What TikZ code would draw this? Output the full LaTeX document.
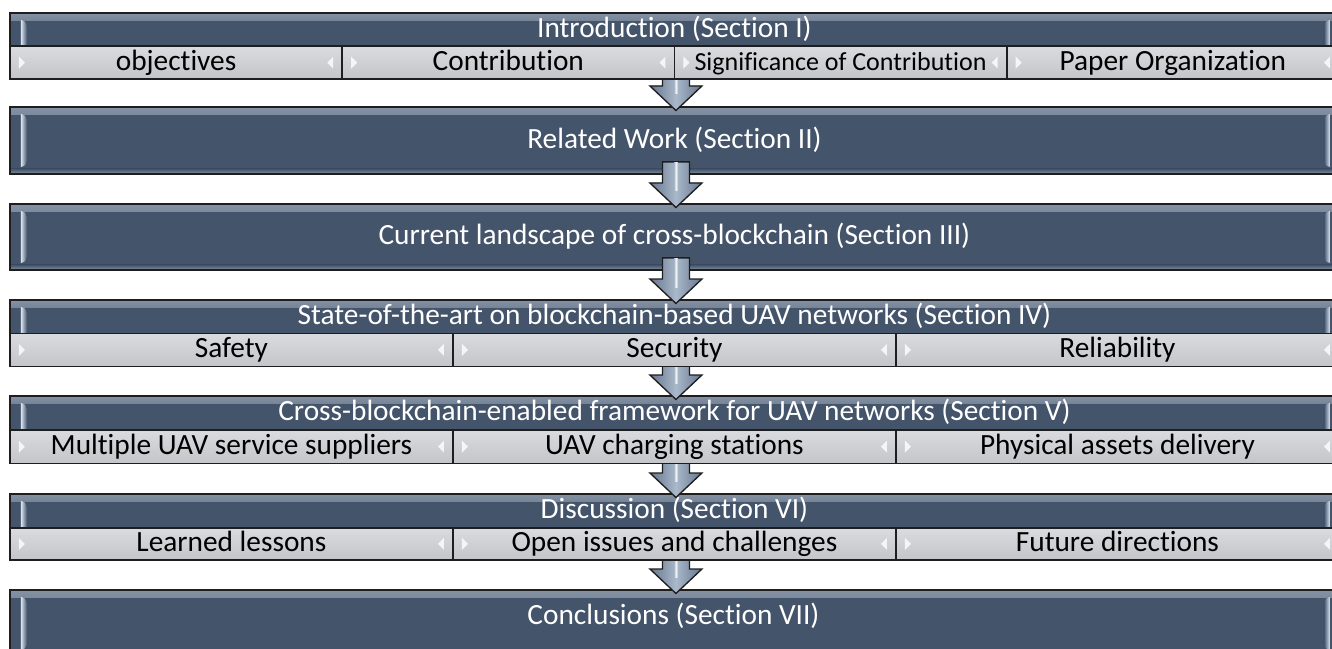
\documentclass[tikz,border=0pt]{standalone}
\usepackage{fontspec}
\setmainfont{Carlito}[Ligatures=NoCommon]
\usetikzlibrary{calc}

\definecolor{barblue}{HTML}{44546A}
\definecolor{barglow}{HTML}{8592A4}
\definecolor{edgehi}{HTML}{DCE6F2}
\definecolor{subtop}{HTML}{D9DBDE}
\definecolor{subbot}{HTML}{C3C5C8}
\definecolor{arrowside}{HTML}{66768D}
\definecolor{arrowmid}{HTML}{A9B8CA}
\definecolor{outl}{HTML}{1E1E1E}

\pgfdeclarelayer{front}
\pgfsetlayers{main,front}

\newcommand\bigfont{\fontsize{22}{26}\selectfont}
\newcommand\smallerfont{\fontsize{19.5}{23}\selectfont}

% anchors of the box currently being decorated
\def\PNW{path picture bounding box.north west}
\def\PNE{path picture bounding box.north east}
\def\PSW{path picture bounding box.south west}
\def\PSE{path picture bounding box.south east}
\def\PW{path picture bounding box.west}
\def\PE{path picture bounding box.east}

% bevel light along the top edge
\newcommand\topglow{%
  \fill[top color=barglow, bottom color=barblue] (\PNW) rectangle ($(\PNE)+(0,8)$);}
% bevel light along the bottom edge
\newcommand\bottomglow{%
  \fill[top color=barblue, bottom color=barglow] ($(\PSW)+(0,-5)$) rectangle (\PSE);}
% side highlights running down to the lower edge (bars with a row below)
\newcommand\sideopen{%
  \fill[left color=edgehi, right color=barblue]
    ($(\PNW)+(11,7)$) .. controls ($(\PNW)+(15,8)$) .. ($(\PNW)+(17,13)$)
    -- ($(\PSW)+(17,0)$) -- ($(\PSW)+(11,0)$) -- cycle;
  \fill[left color=barblue, right color=edgehi]
    ($(\PNE)+(-9,7)$) .. controls ($(\PNE)+(-13,8)$) .. ($(\PNE)+(-15,13)$)
    -- ($(\PSE)+(-15,0)$) -- ($(\PSE)+(-9,0)$) -- cycle;}
% side highlights bevelled at both ends (stand-alone boxes)
\newcommand\sideclosed{%
  \fill[left color=edgehi, right color=barblue]
    ($(\PNW)+(11,7)$) .. controls ($(\PNW)+(15,8)$) .. ($(\PNW)+(17,13)$)
    -- ($(\PSW)+(17,-13)$) .. controls ($(\PSW)+(15,-8)$) .. ($(\PSW)+(11,-7)$) -- cycle;
  \fill[left color=barblue, right color=edgehi]
    ($(\PNE)+(-9,7)$) .. controls ($(\PNE)+(-13,8)$) .. ($(\PNE)+(-15,13)$)
    -- ($(\PSE)+(-15,-13)$) .. controls ($(\PSE)+(-13,-8)$) .. ($(\PSE)+(-9,-7)$) -- cycle;}
% small pointers inside each cell of a lower row
\newcommand\cellmarks{%
  \fill[white, opacity=.8] ($(\PW)+(9,-6)$) -- ($(\PW)+(15,0)$) -- ($(\PW)+(9,6)$) -- cycle;
  \fill[white, opacity=.8] ($(\PE)+(-9,-6)$) -- ($(\PE)+(-15,0)$) -- ($(\PE)+(-9,6)$) -- cycle;}

\tikzset{
  x=0.75pt, y=-0.75pt,
  textbox/.style={text height=16pt, text depth=4.5pt},
  boxline/.style={draw=outl, line width=1.4pt, inner sep=0pt, anchor=north west, textbox},
  titlebar/.style={boxline, fill=barblue, text=white, font=\bigfont,
    minimum width=1329*0.75pt, minimum height=#1*0.75pt,
    path picture={\topglow\sideopen}},
  fullbox/.style={boxline, fill=barblue, text=white, font=\bigfont,
    minimum width=1329*0.75pt, minimum height=#1*0.75pt,
    path picture={\topglow\bottomglow\sideclosed}},
  subcell/.style 2 args={boxline, top color=subtop, bottom color=subbot, text=black,
    font=\bigfont, minimum width=#1*0.75pt, minimum height=#2*0.75pt,
    path picture={\cellmarks}},
  arrowbody/.style={draw=outl, line width=1pt, left color=arrowside,
    right color=arrowside, middle color=arrowmid},
  arrowshine/.style={left color=arrowmid, right color=arrowmid, middle color=white!85!arrowmid},
}

% block arrow from the bottom of one block to the top of the next
\newcommand\flowarrow[2]{%
  \coordinate (fa) at (#1.south -| #2.north);
  \coordinate (fb) at (#2.north);
  \filldraw[arrowbody] ($(fa)+(-12,-13)$) -- ($(fa)+(15,-13)$) -- ($(fb)+(15,-20)$)
    -- ($(fb)+(27.5,-20)$) -- ($(fb)+(1.5,4.5)$) -- ($(fb)+(-24.5,-20)$)
    -- ($(fb)+(-12,-20)$) -- cycle;
  \fill[arrowshine] ($(fa)+(-0.5,-12)$) rectangle ($(fb)+(3.5,-12)$);}

\begin{document}
\begin{tikzpicture}
\path[use as bounding box] (0,0) rectangle (1332,649);

% upper bars and stand-alone boxes
\node[titlebar=33.5] (b1) at (9,12) {Introduction (Section I)};
\node[fullbox=67] (b2) at (9,106) {Related Work (Section II)};
\node[fullbox=66] (b3) at (9,203) {Current landscape of cross-blockchain (Section III)};
\node[titlebar=33.5] (b4) at (9,299) {State-of-the-art on blockchain-based UAV networks (Section IV)};
\node[titlebar=34] (b5) at (9,395) {Cross-blockchain-enabled framework for UAV networks (Section V)};
\node[titlebar=34] (b6) at (9,493) {Discussion (Section VI)};
\node[fullbox=67] (b7) at (9,589) {};
\node[text=white, font=\bigfont, inner sep=0pt, textbox]
  (t7) at (673.5,617) {Conclusions (Section VII)};

% lower rows of the composite blocks, kept in front of the arrows
\begin{pgfonlayer}{front}
\node[subcell={332.25}{32.5}] (b1a) at (9,45.5) {objectives};
\node[subcell={332.25}{32.5}] (b1b) at (341.25,45.5) {Contribution};
\node[subcell={332.25}{32.5}, font=\smallerfont] (b1c) at (673.5,45.5) {Significance of Contribution};
\node[subcell={332.25}{32.5}] (b1d) at (1005.75,45.5) {Paper Organization};

\node[subcell={443}{33}] (b4a) at (9,332.5) {Safety};
\node[subcell={443}{33}] (b4b) at (452,332.5) {Security};
\node[subcell={443}{33}] (b4c) at (895,332.5) {Reliability};

\node[subcell={443}{33.5}] (b5a) at (9,429) {Multiple UAV service suppliers};
\node[subcell={443}{33.5}] (b5b) at (452,429) {UAV charging stations};
\node[subcell={443}{33.5}] (b5c) at (895,429) {Physical assets delivery};

\node[subcell={443}{32}] (b6a) at (9,527) {Learned lessons};
\node[subcell={443}{32}] (b6b) at (452,527) {Open issues and challenges};
\node[subcell={443}{32}] (b6c) at (895,527) {Future directions};
\end{pgfonlayer}

% arrows between the blocks
\flowarrow{b1b}{b2}
\flowarrow{b2}{b3}
\flowarrow{b3}{b4}
\flowarrow{b4b}{b5}
\flowarrow{b5b}{b6}
\flowarrow{b6b}{b7}
\end{tikzpicture}
\end{document}
